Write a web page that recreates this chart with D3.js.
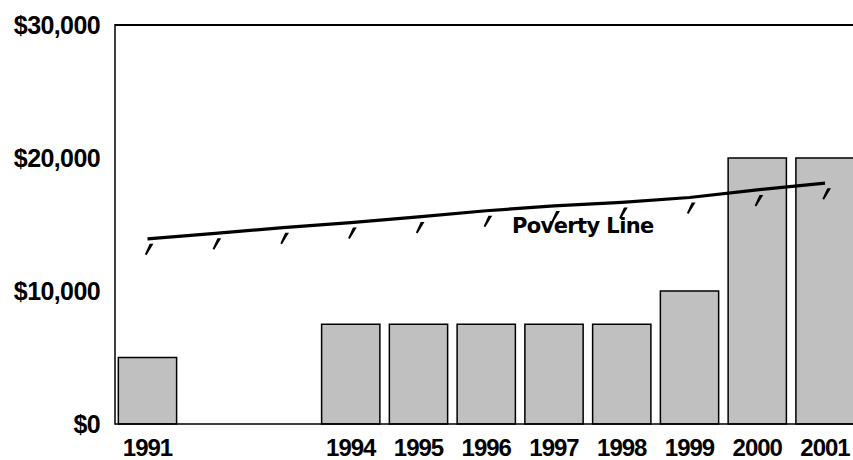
<!DOCTYPE html>
<html>
<head>
<meta charset="utf-8">
<script src="https://cdn.jsdelivr.net/npm/d3@7"></script>
<style>
  html, body { margin: 0; padding: 0; background: #fff; }
  svg { display: block; }
</style>
</head>
<body>
<svg id="chart" width="853" height="460"></svg>
<script>
// ---- data ----
const years = ["1991","1992","1993","1994","1995","1996","1997","1998","1999","2000","2001"];
const xLabels = ["1991","","","1994","1995","1996","1997","1998","1999","2000","2001"];
const barValues = [5000, null, null, 7500, 7500, 7500, 7500, 7500, 10000, 20000, 20000];
const povertyLine = [13924, 14335, 14763, 15141, 15569, 16036, 16400, 16660, 17029, 17603, 18104];
const yTicks = [0, 10000, 20000, 30000];
const povertyLabel = "Poverty Line";

// ---- layout ----
const svg = d3.select("#chart");
const mLeft = 115, mTop = 25, mBottom = 424, mRight = 853;

const x = d3.scaleBand().domain(years).range([113.6, 858.9]).paddingInner(0.14).paddingOuter(0.07);
const y = d3.scaleLinear().domain([0, 30000]).range([mBottom, mTop]);
const fmt = v => "$" + d3.format(",")(v);

// bars
svg.append("g").selectAll("rect")
  .data(years.map((yr, i) => ({yr, v: barValues[i]})).filter(d => d.v != null))
  .join("rect")
  .attr("x", d => x(d.yr))
  .attr("width", x.bandwidth())
  .attr("y", d => y(d.v))
  .attr("height", d => y(0) - y(d.v))
  .attr("fill", "#c0c0c0")
  .attr("stroke", "#000")
  .attr("stroke-width", 1.5);

// frame lines
svg.append("line").attr("x1", mLeft).attr("x2", mRight + 5).attr("y1", mTop).attr("y2", mTop)
  .attr("stroke", "#000").attr("stroke-width", 2);
svg.append("line").attr("x1", mLeft).attr("x2", mRight + 5).attr("y1", mBottom).attr("y2", mBottom)
  .attr("stroke", "#000").attr("stroke-width", 1.5);
svg.append("line").attr("x1", mLeft).attr("x2", mLeft).attr("y1", mTop - 1).attr("y2", mBottom + 0.75)
  .attr("stroke", "#000").attr("stroke-width", 1.5);

// y labels
svg.append("g").selectAll("text").data(yTicks).join("text")
  .attr("x", 100)
  .attr("y", d => y(d))
  .attr("dy", "0.36em")
  .attr("text-anchor", "end")
  .attr("font-family", "Liberation Sans, Arial, sans-serif")
  .attr("font-weight", "bold")
  .attr("font-size", 25)
  .attr("letter-spacing", -0.6)
  .text(fmt);

// x labels
svg.append("g").selectAll("text").data(years.map((yr, i) => ({yr, lab: xLabels[i]}))).join("text")
  .attr("x", d => x(d.yr) + x.bandwidth() / 2)
  .attr("y", 456)
  .attr("text-anchor", "middle")
  .attr("font-family", "Liberation Sans, Arial, sans-serif")
  .attr("font-weight", "bold")
  .attr("font-size", 24)
  .attr("letter-spacing", -1)
  .text(d => d.lab);

// poverty line label
svg.append("text")
  .attr("x", 512)
  .attr("y", 233)
  .attr("font-family", "DejaVu Sans, sans-serif")
  .attr("font-weight", "bold")
  .attr("font-size", 21)
  .attr("letter-spacing", -0.6)
  .text(povertyLabel);

// poverty line
const pts = years.map((yr, i) => [x(yr) + x.bandwidth() / 2, y(povertyLine[i])]);
svg.append("path")
  .attr("d", d3.line()(pts))
  .attr("fill", "none")
  .attr("stroke", "#000")
  .attr("stroke-width", 3.2)
  .attr("stroke-linejoin", "round");

// apostrophe-like markers below the line
svg.append("g").selectAll("path").data(pts).join("path")
  .attr("d", ([cx, cy]) => {
    const t = cy + 5, b = cy + 16.5;
    return `M${cx + 2.2},${t} L${cx + 6},${t} L${cx - 1},${b} L${cx - 2.6},${b - 1} Z`;
  })
  .attr("fill", "#000");
</script>
</body>
</html>
